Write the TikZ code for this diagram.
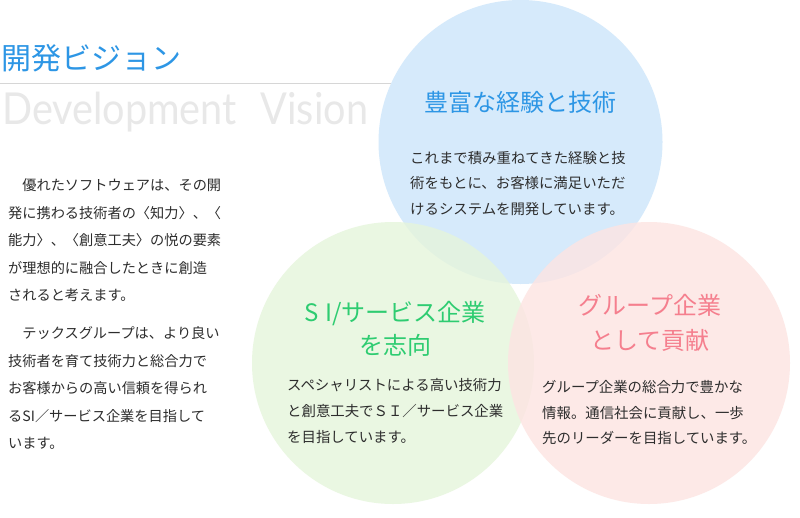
\documentclass[tikz,border=0pt]{standalone}
\usepackage{fontspec}
\newfontfamily\jp{Noto Sans CJK JP}
\newfontfamily\lat{Lato}
\definecolor{cblue}{RGB}{204,229,250}
\definecolor{cgreen}{RGB}{229,245,219}
\definecolor{cpink}{RGB}{253,228,226}
\definecolor{tblue}{RGB}{45,150,229}
\definecolor{tgreen}{RGB}{46,204,113}
\definecolor{tpink}{RGB}{245,127,142}
\definecolor{body}{RGB}{45,45,45}
\definecolor{ghost}{RGB}{232,232,232}
\begin{document}
\begin{tikzpicture}[x=1pt,y=-1pt,
  bubble/.style={fill opacity=0.8},
  ttl/.style={inner sep=0, anchor=base, font=\jp\fontsize{24}{24}\selectfont},
  txt/.style={inner sep=0, anchor=base west, text=body, font=\jp\fontsize{14.4}{14.4}\selectfont},
  lft/.style={inner sep=0, anchor=base west, text=body, font=\jp\fontsize{14.2}{14.2}\selectfont}]
\useasboundingbox (0,0) rectangle (800,517);
\fill[white] (0,0) rectangle (800,517);
% heading
\node[inner sep=0, anchor=base west, text=tblue, font=\jp\fontsize{30}{30}\selectfont] (title) at (1,69) {開発ビジョン};
\coordinate (ruleL) at (0,83);
\coordinate (ruleR) at (391,83);
\draw[black!16, line width=1] (ruleL) -- (ruleR);
\node[inner sep=0, anchor=base west, text=ghost, font=\lat\fontsize{44}{44}\selectfont] (sub) at (2,124) {\scalebox{0.9}[1]{Development\hspace{0.6em}Vision}};
% circles
\fill[cblue, bubble] (520.5,142) circle (142);
\fill[cgreen, bubble] (393,363) circle (141);
\fill[cpink, bubble] (649,363) circle (141);
% left text
\foreach \t [count=\i] in {　優れたソフトウェアは、その開, 発に携わる技術者の〈知力〉、〈, 能力〉、〈創意工夫〉の悦の要素, が理想的に融合したときに創造, されると考えます。}
  \node[lft, name=pa\i] at (8,{190.5+27.5*(\i-1)}) {\t};
\foreach \t [count=\i] in {　テックスグループは、より良い, 技術者を育て技術力と総合力で, お客様からの高い信頼を得られ, るSI／サービス企業を目指して, います。}
  \node[lft, name=pb\i] at (8,{338.5+27.5*(\i-1)}) {\t};
% blue circle text
\node[ttl, text=tblue] (bt) at (520,111) {豊富な経験と技術};
\foreach \t [count=\i] in {これまで積み重ねてきた経験と技, 術をもとに、お客様に満足いただ, けるシステムを開発しています。}
  \node[txt, name=bb\i] at (410,{163+25.5*(\i-1)}) {\t};
% green circle text
\node[ttl, text=tgreen] (gt1) at (395,321) {S\hspace{0.3em}I/サービス企業};
\node[ttl, text=tgreen] (gt2) at (395,354) {を志向};
\foreach \t [count=\i] in {スペシャリストによる高い技術力, と創意工夫でＳＩ／サービス企業, を目指しています。}
  \node[txt, name=gb\i] at (287,{390.5+26*(\i-1)}) {\t};
% pink circle text
\node[ttl, text=tpink] (pt1) at (650,314) {グループ企業};
\node[ttl, text=tpink] (pt2) at (650,349) {として貢献};
\foreach \t [count=\i] in {グループ企業の総合力で豊かな, 情報。通信社会に貢献し、一歩, 先のリーダーを目指しています。}
  \node[txt, name=kb\i] at (542,{392.5+25.5*(\i-1)}) {\t};
\end{tikzpicture}
\end{document}
